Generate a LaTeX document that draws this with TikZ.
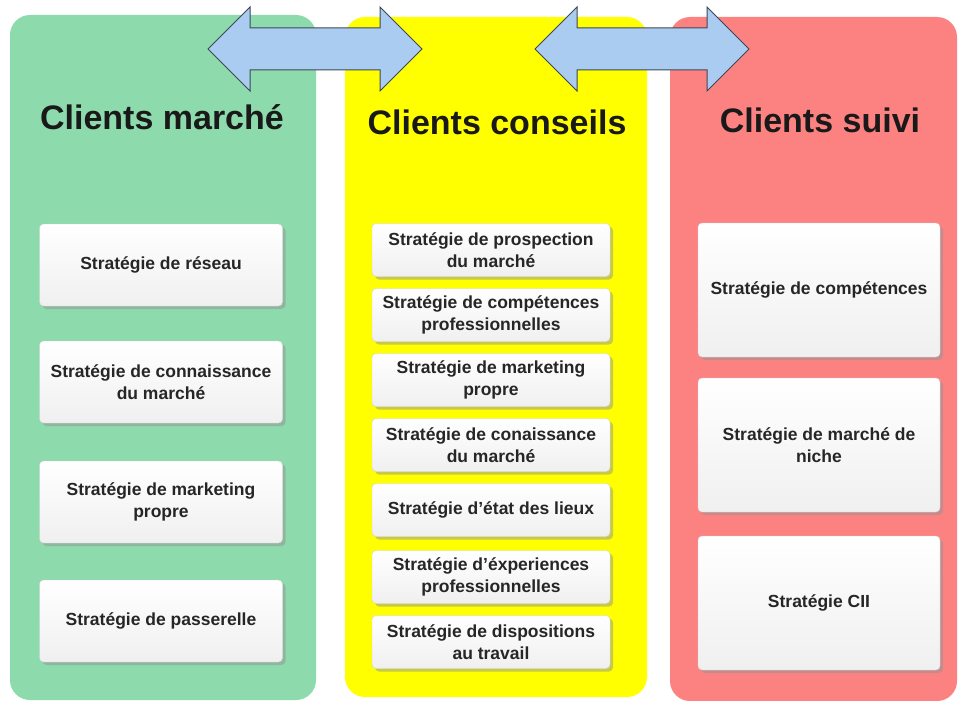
\documentclass[tikz,border=0pt]{standalone}
\usepackage{fontspec}
\setmainfont{Liberation Sans}
\usetikzlibrary{positioning,shadows}
\definecolor{vert}{RGB}{141,219,172}
\definecolor{jaune}{RGB}{255,255,0}
\definecolor{rose}{RGB}{252,130,130}
\definecolor{bleu}{RGB}{170,204,240}
\definecolor{bord}{RGB}{60,72,85}
\tikzset{
  titre/.style={font=\fontsize{34}{40}\selectfont\bfseries, text=black!90},
  strat/.style={draw=gray!35, rounded corners=4pt, top color=white,
    bottom color=gray!12, align=center, inner sep=2pt, text=black!85,
    font=\fontsize{17.5}{22}\selectfont\bfseries,
    drop shadow={shadow xshift=3pt, shadow yshift=-3pt, fill=gray!85}},
  fleche/.style={fill=bleu, draw=bord, line width=1pt, line join=miter}
}

\begin{document}
\begin{tikzpicture}[x=1pt, y=-1pt]
  \useasboundingbox[fill=white] (0,0) rectangle (959,701);
  % colonnes
  \fill[vert, rounded corners=20pt] (10,15) rectangle (316,700);
  \fill[jaune, rounded corners=20pt] (345,17) rectangle (647,697);
  \fill[rose, rounded corners=20pt] (670,17) rectangle (957,701);
  % doubles fleches
  \foreach \xa in {208,535}
    \draw[fleche] (\xa,49) -- ++(42,-42) -- ++(0,21) -- ++(130,0)
      -- ++(0,-21) -- ++(42,42) -- ++(-42,42) -- ++(0,-21)
      -- ++(-130,0) -- ++(0,21) -- cycle;
  % titres
  \node[titre] (tg) at (162,117) {Clients marché};
  \node[titre] (tj) at (497,122) {Clients conseils};
  \node[titre] (tr) at (820,120) {Clients suivi};
  % clients marche
  \node[strat, minimum width=243, minimum height=82] (g1) at (161,265)
    {Stratégie de réseau};
  \node[strat, minimum width=243, minimum height=82] (g2) at (161,382)
    {Stratégie de connaissance\\du marché};
  \node[strat, minimum width=243, minimum height=82] (g3) at (161,502)
    {Stratégie de marketing\\propre};
  \node[strat, minimum width=243, minimum height=82] (g4) at (161,621)
    {Stratégie de passerelle};
  % clients conseils
  \node[strat, minimum width=238, minimum height=53] (j1) at (491,250)
    {Stratégie de prospection\\du marché};
  \node[strat, minimum width=238, minimum height=53] (j2) at (491,315)
    {Stratégie de compétences\\professionnelles};
  \node[strat, minimum width=238, minimum height=53] (j3) at (491,380)
    {Stratégie de marketing\\propre};
  \node[strat, minimum width=238, minimum height=53] (j4) at (491,445)
    {Stratégie de conaissance\\du marché};
  \node[strat, minimum width=238, minimum height=53] (j5) at (491,510)
    {Stratégie d'état des lieux};
  \node[strat, minimum width=238, minimum height=53] (j6) at (491,577)
    {Stratégie d'éxperiences\\professionnelles};
  \node[strat, minimum width=238, minimum height=53] (j7) at (491,642)
    {Stratégie de dispositions\\au travail};
  % clients suivi
  \node[strat, minimum width=242, minimum height=134] (r1) at (819,290)
    {Stratégie de compétences};
  \node[strat, minimum width=242, minimum height=134] (r2) at (819,445)
    {Stratégie de marché de\\niche};
  \node[strat, minimum width=242, minimum height=134] (r3) at (819,603)
    {Stratégie CII};
\end{tikzpicture}
\end{document}
